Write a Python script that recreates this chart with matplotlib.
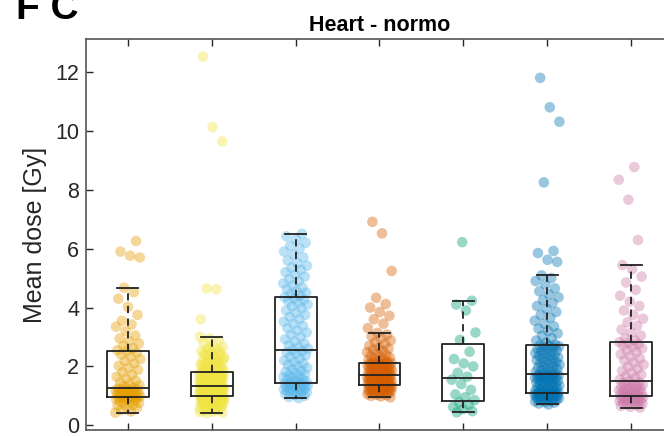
import numpy as np
import matplotlib
matplotlib.use("Agg")
import matplotlib.pyplot as plt

plt.rcParams['font.family'] = ['Liberation Sans', 'DejaVu Sans']

title = "Heart - normo"
ylabel = "Mean dose [Gy]"
panel_label = "F C"
yticks = [0, 2, 4, 6, 8, 10, 12]
colors = ["#E69F00", "#F0E442", "#56B4E9", "#D55E00", "#009E73", "#0072B2", "#CC79A7"]

# box statistics per category
whisker_lo = [0.43, 0.41, 0.92, 0.95, 0.44, 0.71, 0.60]
q1 = [0.97, 0.99, 1.44, 1.36, 0.83, 1.11, 1.00]
median = [1.26, 1.33, 2.56, 1.72, 1.60, 1.73, 1.50]
q3 = [2.53, 1.80, 4.36, 2.13, 2.77, 2.74, 2.83]
whisker_hi = [4.67, 3.01, 6.50, 3.14, 4.23, 5.09, 5.44]

g1 = [0.43, 0.47, 0.52, 0.58, 0.62, 0.66, 0.70, 0.73, 0.76, 0.79, 0.81, 0.84, 0.86, 0.88, 0.90, 0.92, 0.93, 0.94, 0.95, 0.96,
      0.97, 0.99, 1.00, 1.02, 1.03, 1.05, 1.06, 1.08, 1.09, 1.10, 1.12, 1.13, 1.15, 1.16, 1.18, 1.19, 1.21, 1.22, 1.24, 1.25,
      1.28, 1.32, 1.36, 1.40, 1.45, 1.52, 1.58, 1.65, 1.72, 1.80, 1.88, 1.95, 2.02, 2.10, 2.18, 2.25, 2.32, 2.40, 2.46, 2.52,
      2.55, 2.62, 2.70, 2.78, 2.86, 2.95, 3.05, 3.20, 3.35, 3.42, 3.55, 3.75, 4.02, 4.30, 4.52, 4.67, 5.70, 5.76, 5.90, 6.26]
g2 = [0.41, 0.43, 0.46, 0.48, 0.51, 0.54, 0.57, 0.60, 0.62, 0.64, 0.66, 0.68, 0.70, 0.72, 0.74, 0.75, 0.77, 0.78, 0.80, 0.81,
      0.82, 0.83, 0.85, 0.86, 0.87, 0.88, 0.89, 0.90, 0.91, 0.92, 0.93, 0.94, 0.945, 0.95, 0.96, 0.965, 0.97, 0.975, 0.98, 0.985,
      0.45, 0.53, 0.59, 0.65, 0.71, 0.76, 0.79, 0.84, 0.87, 0.90, 0.93, 0.95, 0.97, 0.98,
      0.99, 1.00, 1.01, 1.02, 1.03, 1.04, 1.05, 1.06, 1.07, 1.08, 1.09, 1.10, 1.11, 1.12, 1.13, 1.14, 1.15, 1.16, 1.17, 1.18,
      1.19, 1.20, 1.21, 1.22, 1.23, 1.24, 1.25, 1.26, 1.27, 1.28, 1.29, 1.30, 1.31, 1.315, 1.32, 1.325,
      1.005, 1.035, 1.065, 1.095, 1.125, 1.155, 1.185, 1.215, 1.245, 1.275, 1.305, 1.12, 1.18, 1.24,
      1.34, 1.35, 1.37, 1.38, 1.39, 1.41, 1.42, 1.43, 1.45, 1.46, 1.47, 1.49, 1.50, 1.51, 1.53, 1.54, 1.55, 1.57, 1.58, 1.59,
      1.61, 1.62, 1.63, 1.65, 1.66, 1.67, 1.69, 1.70, 1.71, 1.73, 1.74, 1.75, 1.77, 1.78, 1.79, 1.80,
      1.36, 1.40, 1.44, 1.48, 1.52, 1.56, 1.60, 1.64, 1.68, 1.72, 1.76, 1.42, 1.55, 1.66,
      1.82, 1.85, 1.87, 1.90, 1.92, 1.95, 1.98, 2.01, 2.04, 2.07, 2.10, 2.13, 2.16, 2.19, 2.22, 2.25, 2.28, 2.31, 2.35, 2.38,
      2.42, 2.46, 2.50, 2.55, 2.60, 2.66, 2.72, 2.80, 2.88, 2.95, 3.01,
      1.84, 1.89, 1.94, 2.00, 2.06, 2.12, 2.20, 2.27, 2.34, 2.44, 2.53, 2.63,
      3.60, 4.62, 4.65, 9.64, 10.13, 12.52]
g3 = [0.92, 0.96, 1.00, 1.03, 1.06, 1.08, 1.10, 1.12, 1.14, 1.16, 1.18, 1.20, 1.22, 1.24, 1.26, 1.28, 1.30, 1.31, 1.33, 1.34,
      1.36, 1.37, 1.38, 1.40, 1.41, 1.42, 1.43,
      1.46, 1.49, 1.52, 1.55, 1.58, 1.61, 1.64, 1.67, 1.70, 1.74, 1.78, 1.82, 1.86, 1.90, 1.95, 2.00, 2.05, 2.10, 2.15, 2.20,
      2.26, 2.32, 2.38, 2.43, 2.48, 2.52, 2.55,
      2.60, 2.66, 2.72, 2.78, 2.85, 2.92, 3.00, 3.08, 3.15, 3.22, 3.30, 3.38, 3.45, 3.52, 3.60, 3.68, 3.75, 3.82, 3.90, 3.97,
      4.04, 4.10, 4.16, 4.22, 4.27, 4.31, 4.35,
      4.40, 4.45, 4.50, 4.56, 4.62, 4.68, 4.75, 4.82, 4.90, 4.97, 5.05, 5.12, 5.20, 5.28, 5.35, 5.42, 5.50, 5.60, 5.70, 5.80,
      5.90, 6.00, 6.10, 6.20, 6.30, 6.42, 6.50]
g4 = [0.95, 0.98, 1.00, 1.02, 1.04, 1.06, 1.08, 1.09, 1.10, 1.12, 1.13, 1.14, 1.15, 1.16, 1.17, 1.18, 1.19, 1.20, 1.21, 1.22,
      1.23, 1.24, 1.25, 1.26, 1.27, 1.28, 1.29, 1.30, 1.31, 1.32, 1.33, 1.34, 1.345, 1.35, 1.355,
      1.37, 1.38, 1.39, 1.40, 1.41, 1.42, 1.43, 1.44, 1.45, 1.46, 1.47, 1.48, 1.49, 1.50, 1.51, 1.52, 1.53, 1.54, 1.55, 1.56,
      1.57, 1.58, 1.59, 1.60, 1.61, 1.62, 1.63, 1.64, 1.65, 1.66, 1.67, 1.68, 1.69, 1.70, 1.71,
      1.73, 1.74, 1.75, 1.76, 1.78, 1.79, 1.80, 1.81, 1.83, 1.84, 1.85, 1.86, 1.88, 1.89, 1.90, 1.91, 1.93, 1.94, 1.95, 1.96,
      1.98, 1.99, 2.00, 2.01, 2.03, 2.04, 2.05, 2.06, 2.08, 2.09, 2.10, 2.11, 2.12, 2.125, 2.13,
      2.15, 2.18, 2.21, 2.24, 2.27, 2.30, 2.33, 2.36, 2.40, 2.44, 2.48, 2.52, 2.56, 2.60, 2.65, 2.70, 2.76, 2.82, 2.88, 2.95,
      3.02, 3.08, 3.14, 3.30, 3.45, 3.60, 3.72, 3.85, 4.00, 4.12, 4.33, 5.24, 6.52, 6.91]
g5 = [0.44, 0.48, 0.55, 0.62, 0.70, 0.78, 0.85, 0.95, 1.05, 1.20, 1.40, 1.55, 1.65, 1.78, 2.00, 2.10, 2.25, 2.50, 2.90,
      3.15, 3.90, 4.10, 4.23, 6.22]
g6 = [0.71, 0.74, 0.77, 0.79, 0.81, 0.83, 0.85, 0.86, 0.88, 0.89, 0.90, 0.91, 0.92, 0.93, 0.94, 0.95, 0.96, 0.97, 0.98, 0.99,
      1.00, 1.01, 1.02, 1.03, 1.04, 1.05, 1.06, 1.07, 1.08, 1.085, 1.09, 1.095, 1.10, 1.105, 1.11,
      1.13, 1.15, 1.17, 1.19, 1.21, 1.23, 1.25, 1.27, 1.29, 1.31, 1.33, 1.35, 1.37, 1.39, 1.41, 1.43, 1.45, 1.47, 1.49, 1.51,
      1.53, 1.55, 1.57, 1.59, 1.61, 1.62, 1.64, 1.65, 1.66, 1.67, 1.68, 1.69, 1.70, 1.71, 1.72,
      1.76, 1.79, 1.82, 1.85, 1.88, 1.91, 1.94, 1.97, 2.00, 2.03, 2.06, 2.09, 2.12, 2.15, 2.18, 2.21, 2.24, 2.27, 2.30, 2.33,
      2.36, 2.39, 2.42, 2.45, 2.48, 2.51, 2.54, 2.57, 2.60, 2.63, 2.66, 2.68, 2.70, 2.72, 2.74,
      2.80, 2.88, 2.96, 3.04, 3.12, 3.20, 3.28, 3.36, 3.45, 3.55, 3.65, 3.75, 3.85, 3.95, 4.05, 4.15, 4.25, 4.35, 4.45, 4.55,
      4.65, 4.78, 4.90, 5.00, 5.09, 5.55, 5.62, 5.85, 5.92, 8.25, 10.31, 10.80, 11.80]
g7 = [0.60, 0.63, 0.66, 0.69, 0.71, 0.73, 0.75, 0.77, 0.79, 0.81, 0.83, 0.85, 0.87, 0.88, 0.90, 0.91, 0.92, 0.94, 0.95, 0.96,
      0.98, 0.99,
      1.01, 1.03, 1.05, 1.07, 1.09, 1.11, 1.13, 1.15, 1.17, 1.19, 1.21, 1.23, 1.25, 1.27, 1.30, 1.32, 1.35, 1.37, 1.40, 1.43,
      1.46, 1.49,
      1.55, 1.60, 1.66, 1.72, 1.78, 1.85, 1.92, 1.99, 2.06, 2.13, 2.20, 2.27, 2.34, 2.41, 2.48, 2.55, 2.61, 2.67, 2.72, 2.76,
      2.80, 2.82,
      2.88, 2.95, 3.05, 3.15, 3.25, 3.38, 3.50, 3.62, 3.75, 3.90, 4.05, 4.20, 4.40, 4.60, 4.85, 5.05, 5.30, 5.44, 6.29, 7.66,
      8.34, 8.77]
groups = [g1, g2, g3, g4, g5, g6, g7]

W, H = 664, 436
fig = plt.figure(figsize=(W / 100, H / 100), dpi=100)
ax = fig.add_axes([86 / W, (H - 430) / H, (673 - 86) / W, (430 - 39) / H])

for i, (vals, c) in enumerate(zip(groups, colors)):
    n = len(vals)
    k = np.arange(n)
    jit = ((k * 0.6180339887 + 0.31 * i) % 1.0 - 0.5) * 0.30
    ax.scatter(i + 1 + jit, vals, s=58, color=c, alpha=0.4, edgecolors='none', zorder=2)

stats = []
for i in range(len(groups)):
    stats.append(dict(whislo=whisker_lo[i], q1=q1[i], med=median[i], q3=q3[i], whishi=whisker_hi[i], fliers=[]))

ax.bxp(stats, positions=np.arange(1, len(groups) + 1), widths=0.5, capwidths=0.25, showfliers=False,
       boxprops=dict(color='#222222', lw=1.3),
       medianprops=dict(color='#222222', lw=1.3),
       whiskerprops=dict(color='#222222', lw=1.3, linestyle=(0, (4, 3))),
       capprops=dict(color='#222222', lw=1.3),
       manage_ticks=False, zorder=3)

ax.set_xlim(0.5, 7.5)
ax.set_ylim(-0.16, 13.12)
ax.set_xticks(np.arange(1, 8))
ax.set_xticklabels([])
ax.set_yticks(yticks)
ax.set_yticklabels([str(t) for t in yticks], fontsize=15.5, color='#262626')
ax.tick_params(direction='in', length=5, width=1, colors='#262626', top=True, right=True, labelsize=15.5, pad=5)
for sp in ax.spines.values():
    sp.set_color('#555555')
    sp.set_linewidth(1.2)
ax.set_ylabel(ylabel, fontsize=18, color='#262626', labelpad=6)
ax.set_title(title, fontsize=15.5, fontweight='bold', pad=6)

fig.text(16 / W, 1 - 19 / H, panel_label, fontsize=28, fontweight='bold', va='baseline', ha='left')

fig.savefig("out.png", dpi=100)
